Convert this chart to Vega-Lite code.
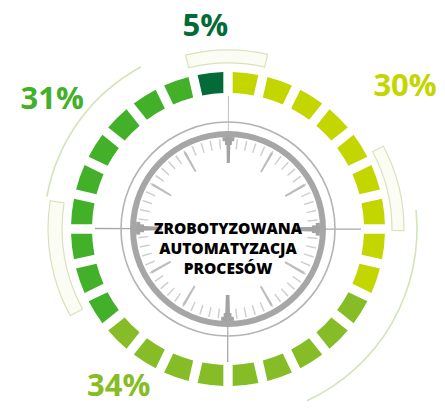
{
  "$schema": "https://vega.github.io/schema/vega-lite/v6.json",
  "autosize": "none",
  "width": 434,
  "height": 366,
  "padding": {"left": 11, "top": 46, "right": 0, "bottom": 0},
  "background": "white",
  "config": {"view": {"stroke": null}},
  "datasets": {
    "segments": [
      {"seg": 1, "share": "30%", "v": 1, "label": ""},
      {"seg": 2, "share": "30%", "v": 1, "label": ""},
      {"seg": 3, "share": "30%", "v": 1, "label": ""},
      {"seg": 4, "share": "30%", "v": 1, "label": ""},
      {"seg": 5, "share": "30%", "v": 1, "label": "30%"},
      {"seg": 6, "share": "30%", "v": 1, "label": ""},
      {"seg": 7, "share": "30%", "v": 1, "label": ""},
      {"seg": 8, "share": "30%", "v": 1, "label": ""},
      {"seg": 9, "share": "30%", "v": 1, "label": ""},
      {"seg": 10, "share": "34%", "v": 1, "label": ""},
      {"seg": 11, "share": "34%", "v": 1, "label": ""},
      {"seg": 12, "share": "34%", "v": 1, "label": ""},
      {"seg": 13, "share": "34%", "v": 1, "label": ""},
      {"seg": 14, "share": "34%", "v": 1, "label": ""},
      {"seg": 15, "share": "34%", "v": 1, "label": ""},
      {"seg": 16, "share": "34%", "v": 1, "label": ""},
      {"seg": 17, "share": "34%", "v": 1, "label": "34%"},
      {"seg": 18, "share": "34%", "v": 1, "label": ""},
      {"seg": 19, "share": "31%", "v": 1, "label": ""},
      {"seg": 20, "share": "31%", "v": 1, "label": ""},
      {"seg": 21, "share": "31%", "v": 1, "label": ""},
      {"seg": 22, "share": "31%", "v": 1, "label": ""},
      {"seg": 23, "share": "31%", "v": 1, "label": ""},
      {"seg": 24, "share": "31%", "v": 1, "label": "31%"},
      {"seg": 25, "share": "31%", "v": 1, "label": ""},
      {"seg": 26, "share": "31%", "v": 1, "label": ""},
      {"seg": 27, "share": "31%", "v": 1, "label": ""},
      {"seg": 28, "share": "5%", "v": 1, "label": "5%"}
    ],
    "centre": [
      {"title": ["ZROBOTYZOWANA", "AUTOMATYZACJA", "PROCESÓW"]}
    ]
  },
  "layer": [
    {
      "data": {"values": [{"part": "left guide arc"}]},
      "mark": {"type": "arc", "theta": 4.89, "theta2": 5.79, "radius": 184.8, "radius2": 183.2, "fill": "#d3e5b8"},
      "encoding": {}
    },
    {
      "data": {"values": [{"part": "right guide arc"}]},
      "mark": {"type": "arc", "theta": 1.47, "theta2": 2.71, "radius": 189.8, "radius2": 188.2, "fill": "#d3e5b8"},
      "encoding": {}
    },
    {
      "data": {"values": [{"part": "top bracket"}]},
      "mark": {"type": "arc", "theta": -0.239, "theta2": 0.223, "radius": 179, "radius2": 166, "fill": "#fbfcf4", "stroke": "#d9e2bc", "strokeWidth": 1.2},
      "encoding": {}
    },
    {
      "data": {"values": [{"part": "right bracket"}]},
      "mark": {"type": "arc", "theta": 1.08, "theta2": 1.58, "radius": 176, "radius2": 164, "fill": "#fbfcf4", "stroke": "#d9e2bc", "strokeWidth": 1.2},
      "encoding": {}
    },
    {
      "data": {"values": [{"part": "left bracket"}]},
      "mark": {"type": "arc", "theta": 4.21, "theta2": 4.87, "radius": 180, "radius2": 166, "fill": "#fbfcf4", "stroke": "#d9e2bc", "strokeWidth": 1.2},
      "encoding": {}
    },
    {
      "data": {"name": "segments"},
      "mark": {"type": "arc", "radius": 157, "radius2": 136, "padAngle": 0.045},
      "encoding": {
        "theta": {"field": "v", "type": "quantitative", "stack": true},
        "order": {"field": "seg", "type": "quantitative"},
        "color": {
          "field": "share",
          "type": "nominal",
          "scale": {"domain": ["30%", "34%", "31%", "5%"], "range": ["#C4D600", "#86BC25", "#43B02A", "#046A38"]},
          "legend": null
        }
      }
    },
    {
      "data": {"values": [{"part": "cross lines"}]},
      "mark": {"type": "arc", "theta": 0, "theta2": 6.2832, "radius": 115, "filled": false, "stroke": "#a8a8a8", "strokeWidth": 36, "strokeDash": [1.3, 179.342], "strokeDashOffset": 0.65},
      "encoding": {}
    },
    {
      "data": {"values": [{"part": "outer thin circle"}]},
      "mark": {"type": "arc", "theta": 0, "theta2": 6.2832, "radius": 107.8, "radius2": 106.2, "fill": "#b3b3b3"},
      "encoding": {}
    },
    {
      "data": {"values": [{"part": "thick ring"}]},
      "mark": {"type": "arc", "theta": 0, "theta2": 6.2832, "radius": 98, "radius2": 92, "fill": "#a6a6a6"},
      "encoding": {}
    },
    {
      "data": {"values": [{"part": "minute ticks"}]},
      "mark": {"type": "arc", "theta": 0, "theta2": 6.2832, "radius": 85, "filled": false, "stroke": "#cfcfcf", "strokeWidth": 10, "strokeDash": [1.5, 7.4012], "strokeDashOffset": 0.75},
      "encoding": {}
    },
    {
      "data": {"values": [{"part": "hour ticks"}]},
      "mark": {"type": "arc", "theta": 0, "theta2": 6.2832, "radius": 77, "filled": false, "stroke": "#bdbdbd", "strokeWidth": 22, "strokeDash": [2.2, 38.1175], "strokeDashOffset": 1.1},
      "encoding": {}
    },
    {
      "data": {"values": [{"part": "cardinal ticks"}]},
      "mark": {"type": "arc", "theta": 0, "theta2": 6.2832, "radius": 79, "filled": false, "stroke": "#a3a3a3", "strokeWidth": 26, "strokeDash": [4.5, 119.593], "strokeDashOffset": 2.25},
      "encoding": {}
    },
    {
      "data": {"values": [{"part": "pointer base"}]},
      "mark": {"type": "arc", "theta": 0, "theta2": 6.2832, "radius": 90, "filled": false, "stroke": "#a3a3a3", "strokeWidth": 4, "strokeDash": [13, 128.372], "strokeDashOffset": 6.5},
      "encoding": {}
    },
    {
      "data": {"values": [{"part": "pointer middle"}]},
      "mark": {"type": "arc", "theta": 0, "theta2": 6.2832, "radius": 86, "filled": false, "stroke": "#a3a3a3", "strokeWidth": 4, "strokeDash": [8, 127.088], "strokeDashOffset": 4},
      "encoding": {}
    },
    {
      "data": {"values": [{"part": "pointer tip"}]},
      "mark": {"type": "arc", "theta": 0, "theta2": 6.2832, "radius": 82, "filled": false, "stroke": "#a3a3a3", "strokeWidth": 4, "strokeDash": [3.5, 125.305], "strokeDashOffset": 1.75},
      "encoding": {}
    },
    {
      "data": {"name": "centre"},
      "mark": {"type": "text", "font": "Open Sans", "fontWeight": 800, "fontSize": 15.5, "lineHeight": 20, "align": "center", "baseline": "middle", "color": "#000000"},
      "encoding": {"text": {"field": "title"}}
    },
    {
      "data": {"name": "segments"},
      "mark": {"type": "text", "font": "Open Sans", "fontWeight": "bold", "fontSize": 31, "align": "center", "baseline": "middle", "radius": 227, "thetaOffset": -0.115},
      "encoding": {
        "theta": {"field": "v", "type": "quantitative", "stack": true},
        "order": {"field": "seg", "type": "quantitative"},
        "color": {"field": "share", "type": "nominal", "legend": null},
        "text": {"condition": {"test": "datum.label == '30%'", "field": "label"}, "value": ""}
      }
    },
    {
      "data": {"name": "segments"},
      "mark": {"type": "text", "font": "Open Sans", "fontWeight": "bold", "fontSize": 31, "align": "center", "baseline": "middle", "radius": 192, "thetaOffset": 0.044},
      "encoding": {
        "theta": {"field": "v", "type": "quantitative", "stack": true},
        "order": {"field": "seg", "type": "quantitative"},
        "color": {"field": "share", "type": "nominal", "legend": null},
        "text": {"condition": {"test": "datum.label == '34%'", "field": "label"}, "value": ""}
      }
    },
    {
      "data": {"name": "segments"},
      "mark": {"type": "text", "font": "Open Sans", "fontWeight": "bold", "fontSize": 31, "align": "center", "baseline": "middle", "radius": 218, "thetaOffset": 0.072},
      "encoding": {
        "theta": {"field": "v", "type": "quantitative", "stack": true},
        "order": {"field": "seg", "type": "quantitative"},
        "color": {"field": "share", "type": "nominal", "legend": null},
        "text": {"condition": {"test": "datum.label == '31%'", "field": "label"}, "value": ""}
      }
    },
    {
      "data": {"name": "segments"},
      "mark": {"type": "text", "font": "Open Sans", "fontWeight": "bold", "fontSize": 31, "align": "center", "baseline": "middle", "radius": 203, "thetaOffset": 0},
      "encoding": {
        "theta": {"field": "v", "type": "quantitative", "stack": true},
        "order": {"field": "seg", "type": "quantitative"},
        "color": {"field": "share", "type": "nominal", "legend": null},
        "text": {"condition": {"test": "datum.label == '5%'", "field": "label"}, "value": ""}
      }
    }
  ]
}
